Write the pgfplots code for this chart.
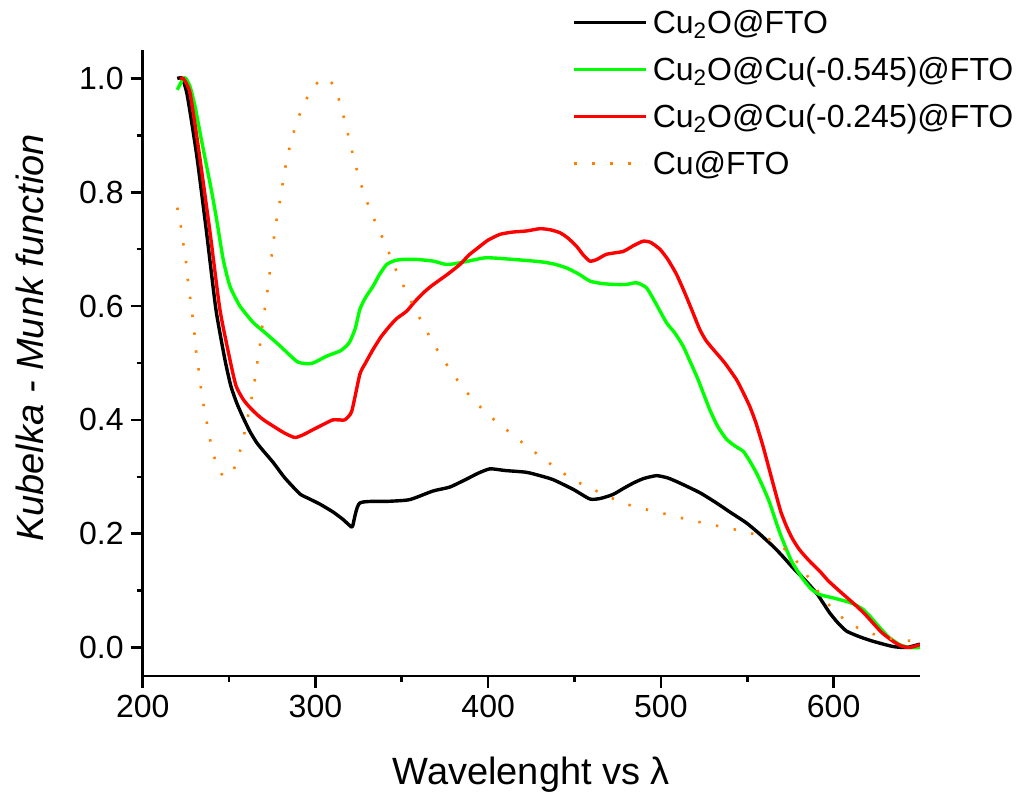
\documentclass[border=0pt]{standalone}
\usepackage{fontspec}
\setmainfont{Liberation Sans}
\usepackage{pgfplots}
\pgfplotsset{compat=1.18}
\definecolor{cuorange}{RGB}{255,128,0}
\definecolor{cugreen}{RGB}{0,255,0}
\definecolor{cured}{RGB}{255,0,0}
\begin{document}
\begin{tikzpicture}
\path[use as bounding box] (-71.35pt,-60pt) rectangle (441.15pt,338pt);
\begin{axis}[
  at={(0pt,0pt)}, anchor=south west,
  scale only axis=true,
  width=388.65pt, height=313pt,
  xmin=200, xmax=650, ymin=-0.05, ymax=1.05,
  axis x line*=bottom, axis y line*=left,
  axis line style={-, line width=1.3pt, black},
  tick style={line width=1.3pt, black},
  tick align=outside,
  major tick length=6pt, minor tick length=3pt,
  xtick={200,300,400,500,600},
  minor x tick num=1,
  ytick={0,0.2,0.4,0.6,0.8,1.0},
  minor y tick num=1,
  /pgf/number format/assume math mode=true,
  tick label style={font=\fontsize{16}{19}\selectfont},
  yticklabel style={/pgf/number format/.cd, fixed, fixed zerofill, precision=1},
  xticklabel style={/pgf/number format/1000 sep={}},
  xlabel={Wavelenght vs λ},
  ylabel={\itshape Kubelka - Munk function},
  label style={font=\fontsize{19}{23}\selectfont},
  xlabel style={at={(axis description cs:0.5,0)}, anchor=base, yshift=-54.5pt},
  ylabel style={at={(axis description cs:-0.127,0.54)}, anchor=base, rotate=0},
  legend style={draw=none, fill=none, at={(axis description cs:0.5523,1.0687)}, anchor=north west,
    font=\fontsize{16}{19}\selectfont, inner sep=0pt, row sep=8.5pt, column sep=2.5pt,
    nodes={inner sep=0pt, text height=13pt, text depth=2pt}},
  legend cell align=left,
  legend image code/.code={\draw[#1] (0pt,0pt) -- (36pt,0pt);},
]
\addplot[black, line width=1.7pt, line join=round, smooth, tension=0.35] coordinates {
(220,1.0) (223,1.0) (225.5,0.975) (228,0.93) (231.6,0.858) (237,0.729) (242.4,0.594)
(247.6,0.506) (251,0.46) (254.4,0.43) (258,0.405) (262,0.38) (266,0.36) (270,0.345) (275.6,0.325)
(282.3,0.298) (291,0.27) (296,0.262) (302.6,0.252) (310.3,0.238) (316,0.225) (320,0.214) (321.5,0.213)
(325.7,0.254) (343,0.257) (354.7,0.26) (368,0.275) (377.8,0.282) (387.5,0.296) (394,0.306) (401,0.314)
(410,0.311) (422,0.308) (430,0.302) (437.6,0.295) (449.2,0.278) (458.9,0.261) (465,0.262) (472.3,0.269) (478,0.279) (484,0.289) (490,0.297) (497.5,0.302)
(504,0.298) (511,0.289) (522.6,0.272) (532.2,0.254) (540,0.238) (549.5,0.219) (557,0.2) (564.9,0.178) (570,0.162) (576.5,0.14) (583,0.12) (590,0.096)
(594,0.078) (597.7,0.061) (602,0.045) (607.4,0.029) (615,0.019) (622.8,0.011) (634,0.002) (642,0.0) (650,0.006)
};
\addlegendentry{Cu\textsubscript{2}O@FTO}
\addplot[cugreen, line width=1.7pt, line join=round, smooth, tension=0.35] coordinates {
(220,0.98) (223.5,1.0) (225,1.0) (227.5,0.985) (230.3,0.951) (233.5,0.9) (237,0.846) (240,0.8) (242.8,0.752) (246.6,0.682)
(250.5,0.635) (256.3,0.60) (264,0.571) (269.8,0.556) (279.5,0.53) (289.1,0.503) (294,0.499)
(298.7,0.50) (306.5,0.512) (314.2,0.521) (318,0.53) (320,0.538) (323,0.56) (325.7,0.594) (329,0.615) (333.4,0.635)
(337,0.655) (341.2,0.673) (346,0.68) (350.8,0.682) (358.6,0.682) (368.2,0.679) (376,0.673) (383.6,0.676)
(390,0.68) (399,0.685) (414.5,0.682) (430,0.678) (438,0.674) (445.4,0.667) (452,0.657) (458.9,0.644) (465,0.64) (472.3,0.638) (480,0.638) (485.9,0.641)
(491.7,0.632) (497,0.605) (503.2,0.571) (508,0.553) (512.8,0.53) (517,0.502) (521.5,0.471) (528.3,0.418) (533,0.388) (538,0.366) (543,0.354) (547.6,0.345)
(551,0.33) (555.3,0.307) (559,0.283) (563,0.254) (568.8,0.202) (575.6,0.152) (582.3,0.12) (587,0.103) (592,0.093) (600,0.087) (607.4,0.081)
(612,0.076) (617,0.067) (621,0.055) (626.7,0.035) (632,0.018) (638.3,0.005) (644,0.0) (650,0.0)
};
\addlegendentry{Cu\textsubscript{2}O@Cu(-0.545)@FTO}
\addplot[cured, line width=1.7pt, line join=round, smooth, tension=0.35] coordinates {
(221.5,1.0) (223.5,1.0) (225.5,0.99) (227.4,0.975) (230,0.925) (233.2,0.858) (239,0.729) (244.7,0.594) (250.5,0.506)
(254,0.46) (258.2,0.436) (262,0.422) (266,0.41) (270,0.4) (275.6,0.389) (282,0.377) (288.1,0.369) (293,0.374) (298.7,0.383)
(306.5,0.395) (310,0.40) (314.2,0.40) (317,0.40) (321,0.415) (325.7,0.48) (329,0.5) (333.4,0.524)
(338,0.546) (343,0.565) (347,0.578) (352.8,0.591) (357,0.606) (362.4,0.623) (367,0.635) (372,0.646) (377,0.657) (383.6,0.673) (389,0.69) (395.2,0.705) (400,0.716) (406.8,0.726)
(414,0.73) (422.2,0.732) (430,0.736) (436,0.734) (441.5,0.729) (446,0.72) (451.2,0.705) (455,0.69) (458.9,0.679) (463,0.682) (468.5,0.691) (478.1,0.696)
(484,0.706) (489.7,0.714) (494,0.712) (499.4,0.70) (504,0.682) (509,0.656) (514,0.622) (518.6,0.588) (522.5,0.559) (526,0.54) (530,0.525) (537,0.50)
(543.7,0.471) (547,0.452) (551.4,0.424) (555,0.395) (559.1,0.354) (563,0.31) (566.9,0.266) (569.5,0.238) (572.7,0.213) (576,0.192) (580.2,0.172) (586,0.152) (592,0.134)
(597,0.117) (603.5,0.099) (608,0.087) (613.2,0.073) (618,0.059) (622.8,0.043) (628,0.026) (634.4,0.011) (639,0.003) (644,0.0) (650,0.005)
};
\addlegendentry{Cu\textsubscript{2}O@Cu(-0.245)@FTO}
\addplot[cuorange, line width=1.3pt, dash pattern=on 1.2pt off 7.8pt, smooth, tension=0.35] coordinates {
(220,0.773) (222,0.742) (223.5,0.71) (225,0.68) (226,0.649) (227.4,0.616) (228.7,0.585)
(229.9,0.554) (230.8,0.523) (232.2,0.492) (233.5,0.461) (235,0.43) (236.9,0.399) (238.9,0.367)
(241.2,0.337) (244.6,0.309) (248,0.300) (252,0.308) (255.6,0.337) (258.2,0.367) (260.5,0.40)
(262.6,0.431) (264.4,0.461) (265.9,0.492) (267.5,0.523) (268.8,0.554) (270.2,0.585) (271.7,0.616)
(273.1,0.647) (274.2,0.678) (275.6,0.71) (276.9,0.741) (278.7,0.772) (280.4,0.803) (282,0.834)
(283.9,0.864) (286.4,0.895) (289.3,0.924) (293,0.953) (297.8,0.98) (302,0.995) (306.7,1.0)
(310,0.99) (312.5,0.974) (315.4,0.943) (318.1,0.912) (320.4,0.882) (322.9,0.851) (325.6,0.822)
(328.9,0.791) (332.7,0.762) (337,0.732) (341.4,0.703) (345.1,0.674) (349.5,0.645) (354,0.617)
(358.4,0.59) (363.2,0.563) (368.2,0.535) (373.6,0.508) (379.4,0.482) (385.5,0.456) (392.5,0.432)
(400,0.409) (407.8,0.39) (415.6,0.37) (423.7,0.351) (431.8,0.332) (440.5,0.313) (449.2,0.295)
(458.5,0.281) (468.5,0.267) (478.1,0.254) (488.2,0.245) (498.4,0.238) (508.6,0.23) (518.6,0.223)
(528.9,0.216) (539.1,0.21) (549.1,0.203) (559.1,0.195) (568.4,0.181) (575.6,0.162) (582.3,0.137)
(588.1,0.111) (593.9,0.087) (601,0.063) (609.4,0.042) (619,0.028) (629.2,0.018) (639.2,0.013)
(650,0.011)
};
\addlegendentry{Cu@FTO}
\end{axis}
\end{tikzpicture}
\end{document}
